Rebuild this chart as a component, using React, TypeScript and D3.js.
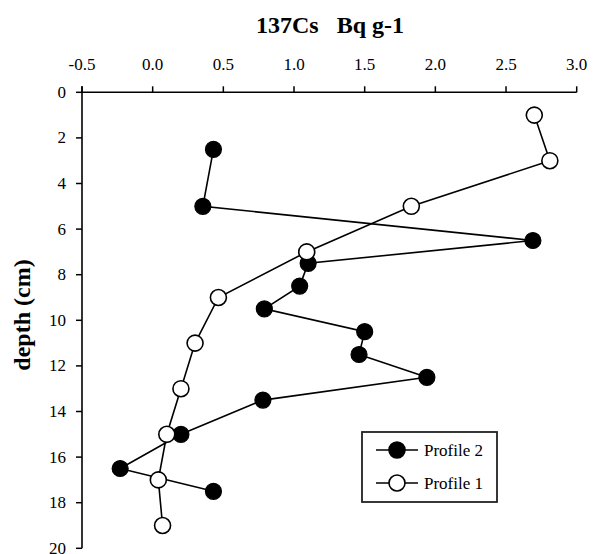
import React from "react";
import * as d3 from "d3";

const xTicks = [-0.5, 0, 0.5, 1, 1.5, 2, 2.5, 3];
const yTicks = [0, 2, 4, 6, 8, 10, 12, 14, 16, 18, 20];

const p2Depth = [2.5, 5, 6.5, 7.5, 8.5, 9.5, 10.5, 11.5, 12.5, 13.5, 15, 16.5, 17.5];
const p2Value = [0.43, 0.355, 2.69, 1.1, 1.04, 0.79, 1.5, 1.46, 1.94, 0.78, 0.2, -0.23, 0.43];

const p1Depth = [1, 3, 5, 7, 9, 11, 13, 15, 17, 19];
const p1Value = [2.7, 2.81, 1.83, 1.09, 0.465, 0.3, 0.2, 0.1, 0.04, 0.07];

const seriesNames = ["Profile 2", "Profile 1"];

const FONT = "'Liberation Serif', 'Times New Roman', serif";

export default function App() {
  const x = d3.scaleLinear().domain([-0.5, 3]).range([82, 576.7]);
  const y = d3.scaleLinear().domain([0, 20]).range([92.3, 548.3]);

  const p2 = p2Depth.map((d, i) => ({ d, v: p2Value[i] }));
  const p1 = p1Depth.map((d, i) => ({ d, v: p1Value[i] }));

  const line = d3
    .line<{ d: number; v: number }>()
    .x((p) => x(p.v))
    .y((p) => y(p.d));

  const r = 8;
  const legX = 362;
  const legY = 432;

  return (
    <svg
      width={601}
      height={554}
      style={{ position: "absolute", left: 0, top: 0, background: "#fff" }}
      fontFamily={FONT}
    >
      <rect x={0} y={0} width={601} height={554} fill="#fff" />
      {/* title */}
      <text
        x={330}
        y={33}
        textAnchor="middle"
        fontSize={24}
        fontWeight="bold"
        style={{ whiteSpace: "pre" }}
      >
        {"137Cs   Bq g-1"}
      </text>
      {/* y label */}
      <text
        transform={`translate(30,315) rotate(-90)`}
        textAnchor="middle"
        fontSize={24}
        fontWeight="bold"
      >
        depth (cm)
      </text>

      {/* x axis (top) */}
      <line x1={x(-0.5)} x2={x(3)} y1={y(0)} y2={y(0)} stroke="#000" strokeWidth={1.6} />
      {xTicks.map((t) => (
        <g key={"xt" + t}>
          <line x1={x(t)} x2={x(t)} y1={y(0)} y2={y(0) - 6} stroke="#000" strokeWidth={1.5} />
          <text x={x(t)} y={69.5} textAnchor="middle" fontSize={17}>
            {t.toFixed(1)}
          </text>
        </g>
      ))}

      {/* y axis */}
      <line x1={x(-0.5)} x2={x(-0.5)} y1={y(0) - 6} y2={y(20)} stroke="#000" strokeWidth={1.6} />
      {yTicks.map((t) => (
        <g key={"yt" + t}>
          <line x1={x(-0.5)} x2={x(-0.5) - 6} y1={y(t)} y2={y(t)} stroke="#000" strokeWidth={1.5} />
          <text x={66} y={y(t)} textAnchor="end" dominantBaseline="central" fontSize={17}>
            {t}
          </text>
        </g>
      ))}

      {/* lines */}
      <path d={line(p2) || ""} fill="none" stroke="#000" strokeWidth={1.6} />
      <path d={line(p1) || ""} fill="none" stroke="#000" strokeWidth={1.6} />

      {/* markers */}
      {p2.map((p, i) => (
        <circle key={"m2" + i} cx={x(p.v)} cy={y(p.d)} r={r} fill="#000" stroke="#000" strokeWidth={1.2} />
      ))}
      {p1.map((p, i) => (
        <circle key={"m1" + i} cx={x(p.v)} cy={y(p.d)} r={r} fill="#fff" stroke="#000" strokeWidth={1.6} />
      ))}

      {/* legend */}
      <rect x={legX} y={legY} width={135} height={70} fill="#fff" stroke="#222" strokeWidth={1.8} />
      {seriesNames.map((name, i) => {
        const cy = legY + 18 + i * 33;
        return (
          <g key={name}>
            <line x1={376} x2={418} y1={cy} y2={cy} stroke="#000" strokeWidth={1.6} />
            <circle
              cx={397}
              cy={cy}
              r={r}
              fill={i === 0 ? "#000" : "#fff"}
              stroke="#000"
              strokeWidth={1.6}
            />
            <text x={424} y={cy} dominantBaseline="central" fontSize={17}>
              {name}
            </text>
          </g>
        );
      })}
    </svg>
  );
}
